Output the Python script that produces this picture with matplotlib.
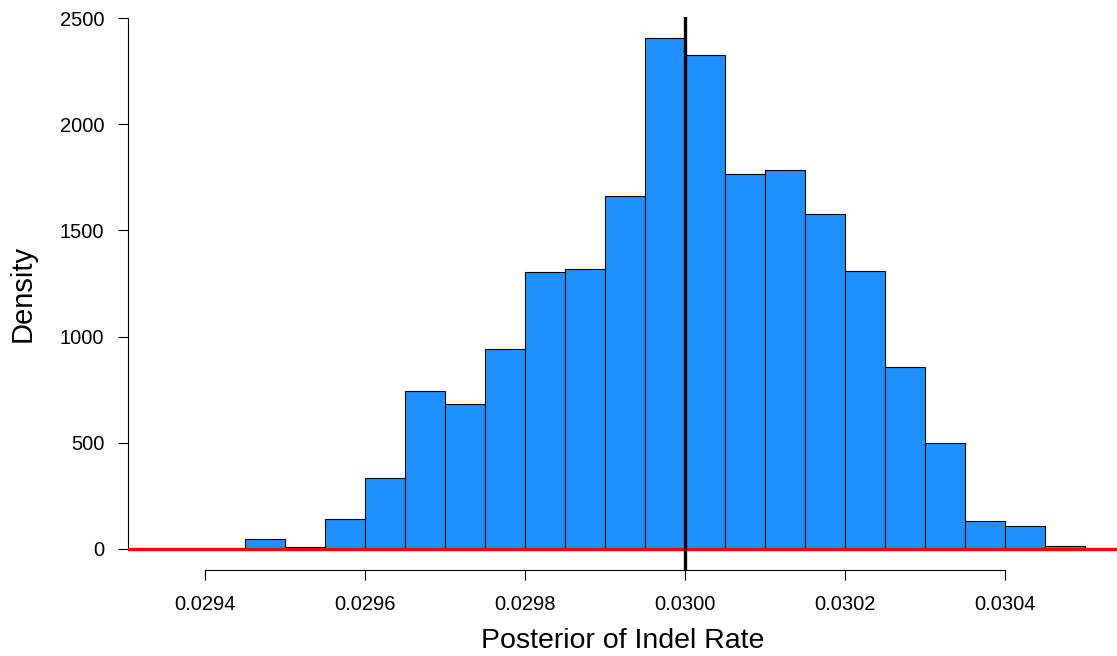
import numpy as np
import matplotlib
matplotlib.use("Agg")
import matplotlib.pyplot as plt

plt.rcParams['font.family'] = ['Liberation Sans', 'DejaVu Sans']

# histogram breaks and densities
bin_edges = [0.02945, 0.02950, 0.02955, 0.02960, 0.02965, 0.02970, 0.02975,
             0.02980, 0.02985, 0.02990, 0.02995, 0.03000, 0.03005, 0.03010,
             0.03015, 0.03020, 0.03025, 0.03030, 0.03035, 0.03040, 0.03045,
             0.03050]
densities = [45, 7, 140, 336, 745, 684, 940, 1306, 1318, 1663, 2406,
             2327, 1766, 1786, 1578, 1310, 857, 500, 133, 110, 16]

true_rate = 0.0300
prior_density = 0.0

x_ticks = [0.0294, 0.0296, 0.0298, 0.0300, 0.0302, 0.0304]
x_ticklabels = ["0.0294", "0.0296", "0.0298", "0.0300", "0.0302", "0.0304"]
y_ticks = [0, 500, 1000, 1500, 2000, 2500]

fig = plt.figure(figsize=(11.17, 6.56), dpi=100)
ax = fig.add_axes([128 / 1117, 86 / 656, 989 / 1117, 553 / 656])

edges = np.array(bin_edges)
ax.bar(edges[:-1], densities, width=np.diff(edges), align='edge',
       color='#1E90FF', edgecolor='black', linewidth=0.8, zorder=2)

ax.axhline(prior_density, color='red', linewidth=2.4, zorder=3)
ax.axvline(true_rate, color='black', linewidth=2.4, zorder=4)

ax.set_xlim(0.0293038, 0.03054)
ax.set_ylim(-99, 2505)

ax.set_xticks(x_ticks)
ax.set_xticklabels(x_ticklabels)
ax.set_yticks(y_ticks)

for s in ['top', 'right']:
    ax.spines[s].set_visible(False)
ax.spines['bottom'].set_bounds(x_ticks[0], x_ticks[-1])
ax.spines['left'].set_bounds(y_ticks[0], y_ticks[-1])
ax.spines['bottom'].set_linewidth(0.8)
ax.spines['left'].set_linewidth(0.8)

ax.tick_params(axis='both', labelsize=14.5, length=7, width=0.8)
ax.tick_params(axis='x', pad=11)
ax.tick_params(axis='y', pad=10)

ax.set_xlabel("Posterior of Indel Rate", fontsize=20.5, labelpad=10)
ax.set_ylabel("Density", fontsize=21, labelpad=17)

fig.savefig("out.png", dpi=100)
